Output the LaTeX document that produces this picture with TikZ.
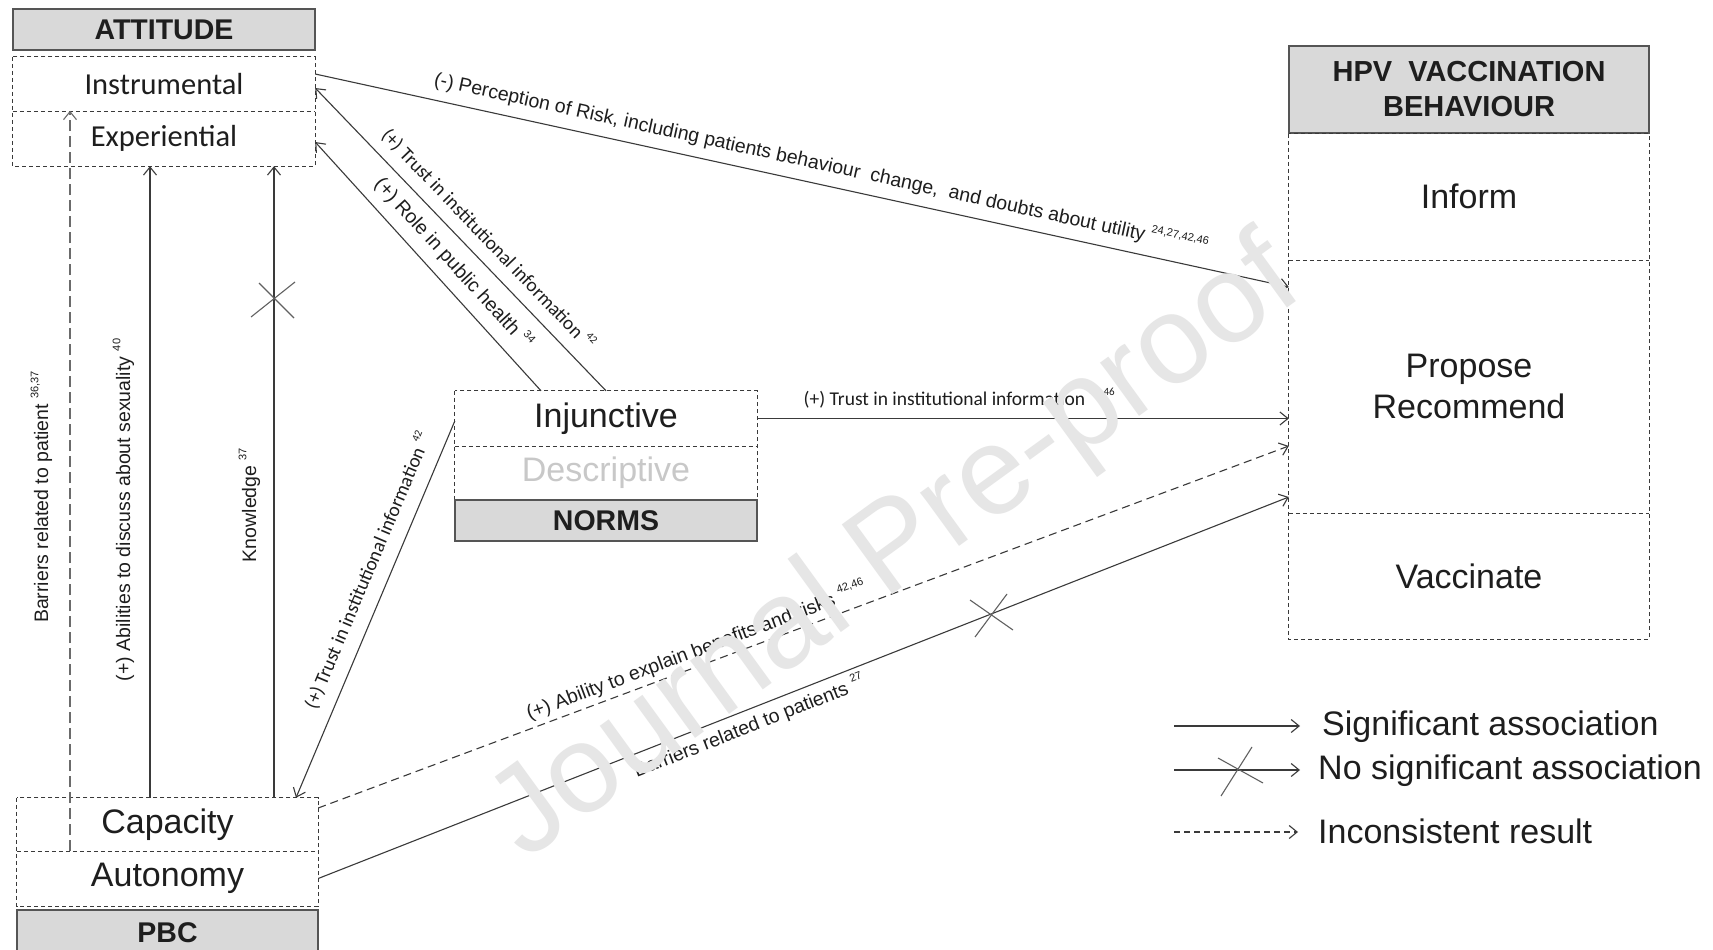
\documentclass[tikz,border=0pt]{standalone}
\usepackage{fontspec}
\setmainfont{Liberation Sans}
\newfontfamily\carl{Carlito}
\usetikzlibrary{arrows.meta,calc}
\definecolor{ink}{HTML}{1E1E1E}
\definecolor{edge}{HTML}{3A3A3A}
\definecolor{titlefill}{HTML}{D9D9D9}
\definecolor{titleedge}{HTML}{555555}
\definecolor{wm}{HTML}{E6E6E6}
\definecolor{desc}{HTML}{C8C8C8}
\newcommand{\rf}[1]{\smash{\raisebox{0.5em}{\fontsize{11}{11}\selectfont #1}}}
\newcommand{\fsz}[1]{\fontsize{#1}{#1}\selectfont}
\begin{document}
\begin{tikzpicture}[x=1pt,y=-1pt,
 titlebox/.style={draw=titleedge, fill=titlefill, line width=1.3pt, minimum width=302pt, minimum height=41pt, inner sep=0pt, font={\fsz{28.5}\bfseries}, text=ink},
 subbox/.style={inner sep=0pt, text=ink},
 dashframe/.style={draw=edge, dash pattern=on 4pt off 3pt, line width=1pt},
 conn/.style={draw=edge, line width=1.1pt, -{Straight Barb[length=8pt,width=13pt]}},
 inconsistent/.style={conn, dash pattern=on 8pt off 5pt},
 lab/.style={font={\fsz{19.5}}, text=ink, inner sep=1pt},
 clab/.style={font={\carl\fsz{19.5}}, text=ink, inner sep=1pt},
 crossmark/.style={draw=edge!80, line width=1.1pt},
 legtext/.style={font={\fsz{34}}, text=ink, anchor=west, inner sep=0pt}]
\fill[white] (0,0) rectangle (1713,950);
\useasboundingbox (0,0) rectangle (1713,950);

% ATTITUDE
\node[titlebox] (att) at (164,29.5) {ATTITUDE};
\node[subbox, minimum width=302pt, minimum height=54pt, font={\carl\fsz{30.5}}] (instr) at (164,84) {Instrumental};
\node[subbox, minimum width=302pt, minimum height=55pt, font={\carl\fsz{30.5}}] (exper) at (164,138.5) {Experiential};
\draw[dashframe] (instr.north west) rectangle (exper.south east);
\draw[dashframe] (instr.south west) -- (instr.south east);

% HPV
\node[titlebox, minimum width=360pt, minimum height=87pt, align=center, font={\fontsize{29}{35}\selectfont\bfseries}] (hpv) at (1469,89.5) {HPV\ \ VACCINATION\\BEHAVIOUR};
\node[subbox, minimum width=360pt, minimum height=127pt, font={\fsz{34}}] (inform) at (1469,196.5) {Inform};
\node[subbox, minimum width=360pt, minimum height=253pt, align=center, font={\fontsize{34}{41}\selectfont}] (prop) at (1469,386.5) {Propose\\Recommend};
\node[subbox, minimum width=360pt, minimum height=126pt, font={\fsz{34}}] (vacc) at (1469,576) {Vaccinate};
\draw[dashframe] ([yshift=-1pt]inform.north west) rectangle (vacc.south east);
\draw[dashframe] (inform.south west) -- (inform.south east);
\draw[dashframe] (prop.south west) -- (prop.south east);

% NORMS
\node[subbox, minimum width=302pt, minimum height=55pt, font={\fsz{34}}] (inj) at (606,418.5) {Injunctive};
\node[subbox, minimum width=302pt, minimum height=53pt, font={\fsz{34}}, text=desc] (desc) at (606,472.5) {Descriptive};
\draw[dashframe] (inj.north west) rectangle (desc.south east);
\draw[dashframe] (inj.south west) -- (inj.south east);
\node[titlebox] (norms) at (606,520.5) {NORMS};

% PBC
\node[subbox, minimum width=301pt, minimum height=53pt, font={\fsz{34}}] (cap) at (167.5,824.5) {Capacity};
\node[subbox, minimum width=301pt, minimum height=55pt, font={\fsz{34}}] (auto) at (167.5,878.5) {Autonomy};
\draw[dashframe] (cap.north west) rectangle (auto.south east);
\draw[dashframe] (cap.south west) -- (cap.south east);
\node[titlebox, minimum width=301pt, minimum height=45pt] (pbc) at (167.5,932.5) {PBC};

% connectors
\draw[conn] ([yshift=10pt]instr.east) -- node[lab, sloped, above=8.5pt, pos=0.515] {(-) Perception of Risk, including patients behaviour\ \ change,\ \ and doubts about utility \rf{24,27,42,46}} ([yshift=99.5pt]prop.west);
\draw[conn] (inj.north) -- node[clab, sloped, above=9.25pt, pos=0.455] {(+) Trust in institutional information \rf{42}} ([yshift=-4pt]instr.east);
\draw[conn] ([xshift=-65pt]inj.north) -- node[lab, sloped, above=9pt, pos=0.456] {(+) Role in public health \rf{34}} ([yshift=-3.5pt]exper.east);
\draw[conn] (inj.east) -- node[clab, above=8.75pt, pos=0.38] {(+) Trust in institutional information \rf{42,46}} (inj.east -| prop.west);
\draw[conn] ([yshift=-2.5pt]inj.west) -- node[clab, sloped, above=11.25pt, pos=0.42] {(+) Trust in institutional information \rf{42}} ([xshift=128.5pt]cap.north);
\draw[inconsistent] ([yshift=16.5pt]cap.east) -- node[lab, sloped, above=3.5pt, pos=0.395] {(+) Ability to explain benefits and risks \rf{42,46}} ([yshift=-59.5pt]prop.west);
\draw[conn] (auto.east) -- node[lab, sloped, below=7pt, pos=0.438] {Barriers related to patients \rf{27}} ([yshift=-110.5pt]prop.west);

% vertical connectors
\draw[inconsistent, dash pattern=on 11pt off 5pt, draw=edge!75] ([xshift=-97.5pt]cap.south) -- ([xshift=-94pt]exper.north);
\draw[conn] ([xshift=-17.5pt]cap.north) -- ([xshift=-14pt]exper.south);
\draw[conn] ([xshift=106.5pt]cap.north) -- ([xshift=110pt]exper.south);
\node[lab, rotate=90] (l8) at (43,497) {Barriers related to patient \rf{36,37}};
\node[lab, rotate=90] (l9) at (125,510) {(+) Abilities to discuss about sexuality \rf{40}};
\node[lab, rotate=90] (l10) at (251,505) {Knowledge \rf{37}};

% crosses
\draw[crossmark] (251,317) -- (295,282);
\draw[crossmark] (259,283) -- (294,318);
\draw[crossmark] (970,600) -- (1013,630);
\draw[crossmark] (975,637) -- (1007,594);

% legend
\coordinate (lg1a) at (1174,726); \coordinate (lg1b) at (1300,726);
\coordinate (lg2a) at (1174,770); \coordinate (lg2b) at (1300,770);
\coordinate (lg3a) at (1174,832); \coordinate (lg3b) at (1298,832);
\draw[conn] (lg1a) -- (lg1b);
\draw[conn] (lg2a) -- (lg2b);
\draw[conn, dash pattern=on 6pt off 4pt] (lg3a) -- (lg3b);
\draw[crossmark] (1218,758) -- (1263,783);
\draw[crossmark] (1252,747) -- (1221,796);
\node[legtext] (lt1) at (1322,727) {Significant association};
\node[legtext] (lt2) at (1318,771) {No significant association};
\node[legtext] (lt3) at (1318,831) {Inconsistent result};

% watermark
\node[text=wm, font={\fsz{125}}, rotate=36, inner sep=0pt] (wmk) at (897,552) {Journal Pre-proof};
\end{tikzpicture}
\end{document}
